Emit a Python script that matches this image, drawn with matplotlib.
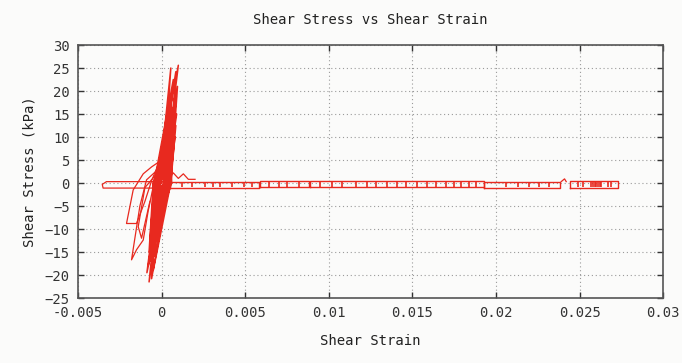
import matplotlib
matplotlib.use("Agg")
import matplotlib.pyplot as plt
import numpy as np

# Strain values below are stored in units of 1e-3 (milli-strain); stress in kPa.

# Central cyclic loops: reversal points and zero-stress crossings
peak_strain = [0.55, 1.00, 0.85, 0.70, 0.95, 0.60, 0.88, 0.75, 0.55, 0.90,
               0.80, 0.50, 0.85, 0.65, 0.45, 0.80, 0.60, 0.40, 0.70, 0.50,
               0.35, 0.65, 0.45, 0.55, 0.30, 0.50, 0.40, 0.45]
peak_stress = [25.0, 25.6, 24.2, 22.5, 21.0, 19.5, 18.8, 17.0, 16.0, 15.0,
               14.0, 13.0, 12.5, 11.5, 10.5, 10.0, 9.0, 8.0, 7.5, 6.5,
               6.0, 5.5, 5.0, 4.0, 3.5, 3.0, 2.5, 2.0]
down_cross = [-0.15, -0.35, -0.20, -0.45, -0.10, -0.40, -0.25, -0.50, -0.20, -0.35,
              -0.45, -0.15, -0.40, -0.25, -0.45, -0.05, -0.30, -0.50, -0.20, -0.40,
              -0.10, -0.30, -0.45, -0.20, -0.15, -0.35, -0.25, -0.30]
trough_strain = [-0.75, -0.60, -0.88, -0.50, -0.80, -0.65, -0.45, -0.75, -0.60, -0.40,
                 -0.70, -0.55, -0.40, -0.65, -0.50, -0.35, -0.60, -0.45, -0.30, -0.55,
                 -0.40, -0.30, -0.50, -0.35, -0.25, -0.45, -0.30, -0.35]
trough_stress = [-21.5, -20.8, -19.5, -19.0, -18.0, -17.0, -16.0, -15.0, -14.0, -13.5,
                 -13.0, -12.0, -11.0, -10.5, -9.5, -9.0, -8.0, -7.5, -7.0, -6.0,
                 -5.5, -5.0, -4.0, -3.5, -3.0, -2.5, -2.0, -1.5]
up_cross = [0.15, 0.45, 0.25, 0.55, 0.20, 0.40, 0.50, 0.60, 0.30, 0.45,
            0.15, 0.55, 0.25, 0.40, 0.50, 0.20, 0.45, 0.30, 0.55, 0.25,
            0.40, 0.15, 0.50, 0.30, 0.45, 0.20, 0.35, 0.25]

# Excursions to the negative-strain side
left_a_strain = [0.0, -0.6, -1.1, -1.7, -2.1, -1.5, -1.0, -0.6, -0.2]
left_a_stress = [5.0, 3.5, 2.0, -1.5, -8.8, -8.8, -4.0, 0.5, 4.0]
left_b_strain = [-0.2, -0.9, -1.3, -1.8, -1.5, -1.1, -0.8, -0.4]
left_b_stress = [3.0, 0.7, -5.0, -16.7, -14.5, -12.4, -6.0, 1.0]
left_c_strain = [-0.3, -1.0, -1.4, -1.2, -0.7]
left_c_stress = [2.0, -1.0, -9.5, -12.0, -4.0]
left_flat_strain = [0.3, -3.3, -3.55, -3.5, 0.4]
left_flat_stress = [0.3, 0.3, -0.3, -1.1, -1.1]

# Small loops right after the main cycles
squiggle_strain = [0.3, 0.7, 1.0, 1.3, 1.6, 2.0]
squiggle_stress = [0.5, 2.2, 1.0, 2.0, 0.8, 0.8]

# Strain accumulation at near-zero stress: thin loops
band_start = [0.5, 5.9, 8.9, 19.3, 24.4]
band_end = [5.8, 8.8, 19.3, 23.8, 27.3]
band_top = [0.3, 0.5, 0.5, 0.3, 0.4]
band_bottom = [-1.0, -0.9, -0.9, -1.0, -1.0]
hatch_strain = [1.2, 1.8, 2.6, 3.1, 3.5, 4.2, 4.9, 5.4,
                6.4, 7.0, 7.5, 8.2,
                9.5, 10.2, 10.8, 11.6, 12.3, 12.8, 13.5, 14.1, 14.6, 15.3,
                15.9, 16.4, 17.0, 17.5, 17.9, 18.4, 18.8,
                20.6, 21.3, 22.0, 22.6, 23.2,
                24.9, 25.2, 25.7, 25.8, 25.9, 26.0, 26.1, 26.2, 26.3, 26.7, 26.9]
spike_strain = [23.9, 24.1, 24.2]
spike_stress = [0.3, 0.9, 0.3]

x_ticks = [-0.005, 0, 0.005, 0.01, 0.015, 0.02, 0.025, 0.03]
x_tick_labels = ["-0.005", "0", "0.005", "0.01", "0.015", "0.02", "0.025", "0.03"]
y_ticks = [-25, -20, -15, -10, -5, 0, 5, 10, 15, 20, 25, 30]

RED = "#e8291f"
BG = "#fbfbfa"
MILLI = 1e-3

plt.rcParams["font.family"] = ["DejaVu Sans Mono"]

fig = plt.figure(figsize=(6.82, 3.63), dpi=100, facecolor=BG)
ax = fig.add_axes([0.1144, 0.179, 0.858, 0.697], facecolor=BG)

# Assemble the cyclic path: peak -> down crossing -> trough -> up crossing -> next peak
cyc_x, cyc_y = [0.0], [0.0]
for i in range(len(peak_strain)):
    cyc_x += [up_cross[i - 1] if i else 0.1, peak_strain[i], down_cross[i], trough_strain[i]]
    cyc_y += [0.0, peak_stress[i], 0.0, trough_stress[i]]
cyc_x += [up_cross[-1]]
cyc_y += [0.0]
ax.plot(np.array(cyc_x) * MILLI, cyc_y, color=RED, lw=1.1)

for xs, ys in [(left_a_strain, left_a_stress), (left_b_strain, left_b_stress),
               (left_c_strain, left_c_stress),
               (left_flat_strain, left_flat_stress), (squiggle_strain, squiggle_stress),
               (spike_strain, spike_stress)]:
    ax.plot(np.array(xs) * MILLI, ys, color=RED, lw=0.9)

for s, e, t, b in zip(band_start, band_end, band_top, band_bottom):
    ax.plot(np.array([s, e, e, s, s]) * MILLI, [b, b, t, t, b], color=RED, lw=1.0)

ax.vlines(np.array(hatch_strain) * MILLI, -0.9, 0.3, color=RED, lw=1.2)

ax.set_xlim(-0.005, 0.03)
ax.set_ylim(-25, 30)
ax.set_xticks(x_ticks)
ax.set_xticklabels(x_tick_labels)
ax.set_yticks(y_ticks)

ax.grid(True, color="#9a9a9a", linestyle=(0, (1, 2.5)), linewidth=0.8)
ax.set_axisbelow(True)
ax.tick_params(direction="in", top=True, right=True, length=4, width=1.0,
               colors="#333333", labelsize=10, pad=6)
for sp in ax.spines.values():
    sp.set_color("#555555")
    sp.set_linewidth(1.2)

ax.set_title("Shear Stress vs Shear Strain", fontsize=10, pad=15, color="#222222")
ax.set_xlabel("Shear Strain", fontsize=10, labelpad=10, color="#222222")
ax.set_ylabel("Shear Stress (kPa)", fontsize=10, labelpad=6, color="#222222")

fig.savefig("out.png", dpi=100, facecolor=BG)
